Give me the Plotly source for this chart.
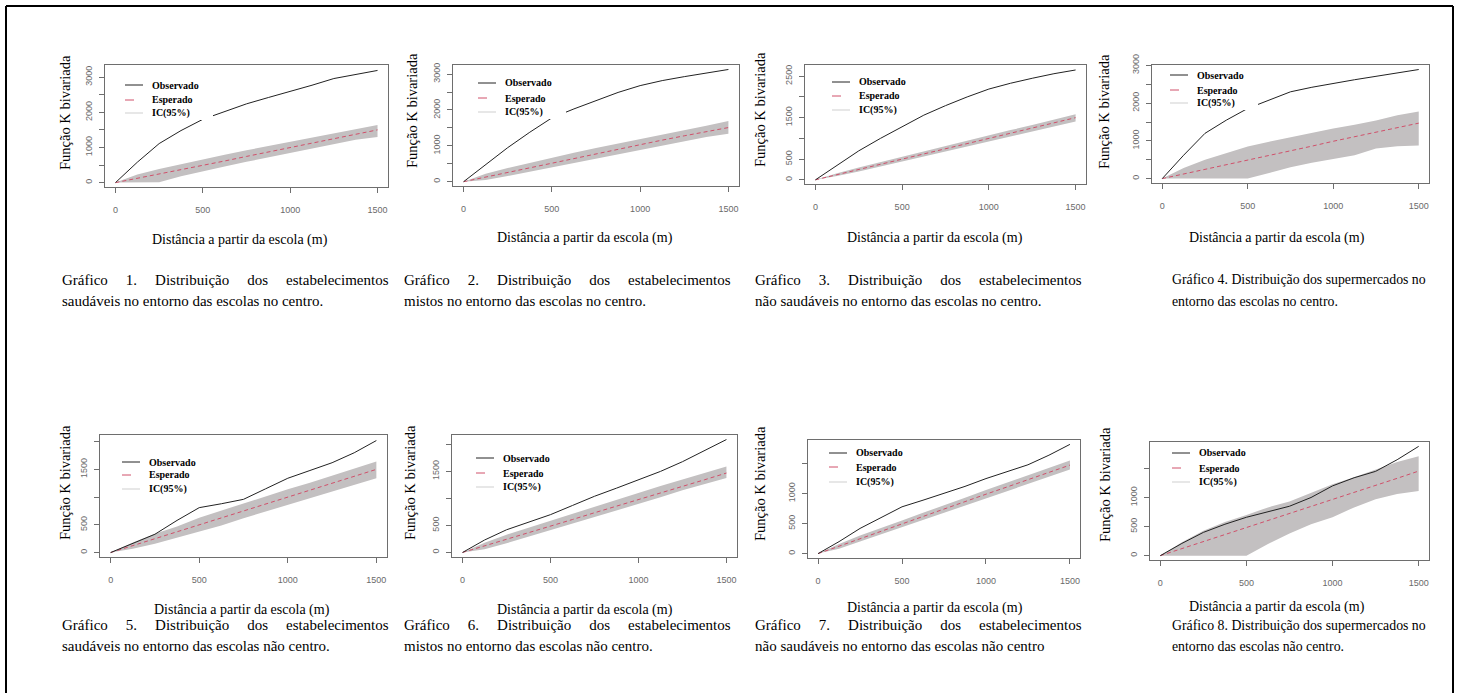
import plotly.graph_objects as go

W, H = 1462, 693

# ---------------- data ----------------
dist = [0, 125, 250, 375, 500, 625, 750, 875, 1000, 1125, 1250, 1375, 1500]

obs_p1 = [0, 580, 1110, 1480, 1800, 2010, 2240, 2420, 2590, 2770, 2960, 3080, 3190]
esp_p1 = [0, 120, 245, 370, 490, 615, 745, 870, 995, 1120, 1245, 1370, 1500]
lo_p1 = [0, 0, 10, 180, 330, 460, 590, 720, 850, 980, 1100, 1220, 1300]
hi_p1 = [0, 230, 390, 530, 660, 790, 920, 1040, 1160, 1290, 1420, 1540, 1640]

obs_p2 = [0, 480, 950, 1380, 1780, 2030, 2270, 2490, 2680, 2820, 2930, 3030, 3130]
esp_p2 = [0, 130, 265, 400, 530, 660, 790, 920, 1040, 1160, 1280, 1400, 1510]
lo_p2 = [0, 50, 160, 280, 410, 530, 650, 770, 900, 1010, 1130, 1250, 1340]
hi_p2 = [0, 220, 380, 530, 680, 810, 940, 1060, 1190, 1310, 1440, 1560, 1690]

obs_p3 = [0, 340, 700, 1000, 1290, 1560, 1790, 2000, 2190, 2330, 2450, 2560, 2650]
esp_p3 = [0, 125, 250, 375, 500, 625, 750, 875, 1000, 1125, 1250, 1375, 1500]
lo_p3 = [0, 90, 200, 320, 440, 560, 690, 810, 930, 1050, 1170, 1290, 1410]
hi_p3 = [0, 160, 300, 430, 560, 690, 810, 940, 1070, 1200, 1320, 1450, 1580]

obs_p4 = [0, 620, 1200, 1550, 1860, 2080, 2300, 2420, 2530, 2620, 2710, 2800, 2890]
esp_p4 = [0, 120, 250, 370, 490, 610, 740, 860, 990, 1110, 1230, 1350, 1470]
lo_p4 = [0, 0, 0, 0, 0, 150, 300, 420, 520, 620, 800, 860, 880]
hi_p4 = [0, 280, 500, 680, 850, 980, 1100, 1220, 1330, 1430, 1540, 1680, 1780]

obs_p5 = [0, 160, 330, 580, 810, 880, 960, 1150, 1340, 1480, 1620, 1800, 2020]
esp_p5 = [0, 125, 250, 375, 500, 625, 750, 875, 1000, 1125, 1250, 1375, 1500]
lo_p5 = [0, 70, 160, 270, 370, 490, 620, 740, 860, 980, 1110, 1230, 1340]
hi_p5 = [0, 180, 340, 470, 630, 760, 890, 1010, 1140, 1260, 1390, 1510, 1640]

obs_p6 = [0, 230, 420, 560, 700, 870, 1040, 1190, 1340, 1500, 1680, 1880, 2090]
esp_p6 = [0, 120, 245, 365, 490, 610, 735, 855, 980, 1100, 1225, 1345, 1470]
lo_p6 = [0, 60, 170, 290, 410, 530, 650, 780, 890, 1020, 1150, 1270, 1380]
hi_p6 = [0, 180, 330, 460, 590, 720, 850, 970, 1100, 1230, 1350, 1470, 1590]

obs_p7 = [0, 200, 420, 600, 780, 890, 1000, 1120, 1250, 1360, 1480, 1640, 1820]
esp_p7 = [0, 125, 250, 370, 495, 620, 740, 865, 990, 1110, 1235, 1355, 1475]
lo_p7 = [0, 80, 200, 320, 440, 560, 680, 800, 920, 1040, 1160, 1280, 1400]
hi_p7 = [0, 160, 300, 420, 550, 680, 800, 930, 1060, 1180, 1310, 1430, 1550]

obs_p8 = [0, 210, 400, 540, 660, 760, 850, 1000, 1200, 1340, 1450, 1650, 1880]
esp_p8 = [0, 120, 240, 360, 485, 600, 720, 845, 970, 1090, 1210, 1330, 1455]
lo_p8 = [0, 0, 0, 0, 0, 200, 380, 540, 660, 830, 970, 1060, 1110]
hi_p8 = [0, 230, 430, 580, 700, 830, 930, 1080, 1230, 1350, 1480, 1610, 1710]

x_ticks = [0, 500, 1000, 1500]
x_ticktext = ["0", "500", "1000", "1500"]

yticks_p1 = [0, 500, 1000, 1500, 2000, 2500, 3000]
ytext_p1 = ["0", "", "1000", "", "2000", "", "3000"]
yticks_p3 = [0, 500, 1000, 1500, 2000, 2500]
ytext_p3 = ["0", "500", "", "1500", "", "2500"]
yticks_p5 = [0, 500, 1000, 1500, 2000]
ytext_p5 = ["0", "500", "", "1500", ""]
yticks_p7 = [0, 500, 1000, 1500]
ytext_p7 = ["0", "500", "1000", ""]

legend_names = ["Observado", "Esperado", "IC(95%)"]
x_title = "Distância a partir da escola (m)"
y_title = "Função K bivariada"

captions = [
    ("Gráfico 1. Distribuição dos estabelecimentos", "saudáveis no entorno das escolas no centro.", True),
    ("Gráfico 2. Distribuição dos estabelecimentos", "mistos no entorno das escolas no centro.", True),
    ("Gráfico 3. Distribuição dos estabelecimentos", "não saudáveis no entorno das escolas no centro.", True),
    ("Gráfico 4. Distribuição dos supermercados no", "entorno das escolas no centro.", False),
    ("Gráfico 5. Distribuição dos estabelecimentos", "saudáveis no entorno das escolas não centro.", True),
    ("Gráfico 6. Distribuição dos estabelecimentos", "mistos no entorno das escolas não centro.", True),
    ("Gráfico 7. Distribuição dos estabelecimentos", "não saudáveis no entorno das escolas não centro", True),
    ("Gráfico 8. Distribuição dos supermercados no", "entorno das escolas não centro.", False),
]

# ---------------- layout geometry (pixels) ----------------
panels = [
    dict(obs=obs_p1, esp=esp_p1, lo=lo_p1, hi=hi_p1, box=(105, 388, 65, 187), yr=(-125, 3345),
         yt=(yticks_p1, ytext_p1), ytx=(65, 113), xtx=(240, 240), leg=(150, (85, 100, 113)), cap=(60, 280)),
    dict(obs=obs_p2, esp=esp_p2, lo=lo_p2, hi=hi_p2, box=(453, 739, 65, 186), yr=(-120, 3255),
         yt=(yticks_p1, ytext_p1), ytx=(412, 111), xtx=(585, 238), leg=(503, (83, 98, 112)), cap=(402, 280)),
    dict(obs=obs_p3, esp=esp_p3, lo=lo_p3, hi=hi_p3, box=(805, 1086, 65, 184), yr=(-100, 2770),
         yt=(yticks_p3, ytext_p3), ytx=(760, 110), xtx=(935, 238), leg=(857, (82, 96, 110)), cap=(753, 280)),
    dict(obs=obs_p4, esp=esp_p4, lo=lo_p4, hi=hi_p4, box=(1152, 1429, 65, 183), yr=(-116, 3010),
         yt=(yticks_p1, ytext_p1), ytx=(1104, 112), xtx=(1277, 238), leg=(1195, (75, 90, 103)), cap=(1170, 280)),
    dict(obs=obs_p5, esp=esp_p5, lo=lo_p5, hi=hi_p5, box=(100, 387, 435, 557), yr=(-80, 2120),
         yt=(yticks_p5, ytext_p5), ytx=(65, 483), xtx=(242, 610), leg=(147, (462, 475, 489)), cap=(60, 625)),
    dict(obs=obs_p6, esp=esp_p6, lo=lo_p6, hi=hi_p6, box=(452, 737, 435, 557), yr=(-84, 2174),
         yt=(yticks_p5, ytext_p5), ytx=(410, 483), xtx=(585, 610), leg=(501, (458, 473, 487)), cap=(402, 625)),
    dict(obs=obs_p7, esp=esp_p7, lo=lo_p7, hi=hi_p7, box=(808, 1080, 440, 558), yr=(-73, 1893),
         yt=(yticks_p7, ytext_p7), ytx=(760, 484), xtx=(935, 608), leg=(854, (453, 467, 482)), cap=(753, 625)),
    dict(obs=obs_p8, esp=esp_p8, lo=lo_p8, hi=hi_p8, box=(1150, 1429, 442, 560), yr=(-75, 1955),
         yt=(yticks_p7, ytext_p7), ytx=(1105, 485), xtx=(1277, 607), leg=(1197, (453, 468, 482)), cap=(1170, 625)),
]

SERIF = "Liberation Serif, Times New Roman, serif"
TICKFONT = dict(family="Liberation Sans Narrow, Liberation Sans, Arial, sans-serif", size=9, color="#6a6a6a")
BOXC = "#6e6e6e"
RED = "#d0506a"
BAND = "#c3c0c1"
ICLEG = "#cfcfcf"
OBSC = "#222222"


def px(x):
    return x / W


def py(y):
    return 1 - y / H


def justify(s):
    nb = "\u00a0"
    return (" " + nb * 3 + "\u2009").join(s.split(" "))


fig = go.Figure()
layout = dict(
    width=W, height=H, margin=dict(l=0, r=0, t=0, b=0, autoexpand=False),
    paper_bgcolor="white", plot_bgcolor="white",
    showlegend=False, annotations=[], shapes=[],
    font=dict(family=SERIF, color="black"),
)

for i, p in enumerate(panels):
    n = i + 1
    xa = "x" if n == 1 else f"x{n}"
    ya = "y" if n == 1 else f"y{n}"
    x0, x1, y0, y1 = p["box"]

    # band (IC 95%)
    fig.add_trace(go.Scatter(x=dist, y=p["lo"], mode="lines", line=dict(width=0, color=BAND),
                             hoverinfo="skip", xaxis=xa, yaxis=ya))
    fig.add_trace(go.Scatter(x=dist, y=p["hi"], mode="lines", line=dict(width=0, color=BAND),
                             fill="tonexty", fillcolor=BAND, name=legend_names[2],
                             xaxis=xa, yaxis=ya))
    # expected
    fig.add_trace(go.Scatter(x=dist, y=p["esp"], mode="lines", name=legend_names[1],
                             line=dict(color=RED, width=1, dash="4px,3px"), xaxis=xa, yaxis=ya))
    # observed
    fig.add_trace(go.Scatter(x=dist, y=p["obs"], mode="lines", name=legend_names[0],
                             line=dict(color=OBSC, width=1), xaxis=xa, yaxis=ya))

    axkey = "xaxis" if n == 1 else f"xaxis{n}"
    aykey = "yaxis" if n == 1 else f"yaxis{n}"
    layout[axkey] = dict(
        domain=[px(x0), px(x1)], anchor=ya, range=[-60, 1560],
        tickmode="array", tickvals=x_ticks, ticktext=x_ticktext,
        ticks="outside", ticklen=5, tickcolor=BOXC, tickwidth=1,
        showline=True, linecolor=BOXC, linewidth=1, mirror=True,
        showgrid=False, zeroline=False, tickfont=TICKFONT, ticklabelstandoff=9,
    )
    layout[aykey] = dict(
        domain=[py(y1), py(y0)], anchor=xa, range=list(p["yr"]),
        tickmode="array", tickvals=p["yt"][0], ticktext=p["yt"][1],
        ticks="outside", ticklen=5, tickcolor=BOXC, tickwidth=1,
        showline=True, linecolor=BOXC, linewidth=1, mirror=True,
        showgrid=False, zeroline=False, tickfont=TICKFONT, tickangle=-90, ticklabelstandoff=3,
    )

    # legend drawn like R's legend(): white box, short line samples, labels
    ts, ents = p["leg"]
    layout["shapes"].append(dict(type="rect", xref="paper", yref="paper", layer="above",
                                 x0=px(ts - 32), x1=px(ts + 63), y0=py(ents[0] - 8), y1=py(ents[2] + 7),
                                 fillcolor="white", line=dict(width=0)))
    sample_styles = [dict(color=OBSC, width=1), dict(color=RED, width=1, dash="dash"),
                     dict(color=ICLEG, width=1)]
    for k in range(3):
        layout["shapes"].append(dict(type="line", xref="paper", yref="paper", layer="above",
                                     x0=px(ts - 25), x1=px(ts - 7), y0=py(ents[k]), y1=py(ents[k]),
                                     line=sample_styles[k]))
        layout["annotations"].append(dict(
            text="<b>" + legend_names[k] + "</b>", x=px(ts), y=py(ents[k]), xref="paper", yref="paper",
            showarrow=False, xanchor="left", yanchor="middle",
            font=dict(family=SERIF, size=10, color="black")))

    # axis titles
    layout["annotations"].append(dict(
        text=y_title, x=px(p["ytx"][0]), y=py(p["ytx"][1]), xref="paper", yref="paper",
        textangle=-90, showarrow=False, xanchor="center", yanchor="middle",
        font=dict(family=SERIF, size=14.5, color="black")))
    layout["annotations"].append(dict(
        text=x_title, x=px(p["xtx"][0]), y=py(p["xtx"][1]), xref="paper", yref="paper",
        showarrow=False, xanchor="center", yanchor="middle",
        font=dict(family=SERIF, size=14, color="black")))

    # captions
    l1, l2, just = captions[i]
    cx, cy = p["cap"]
    fs = 15 if just else 13.8
    layout["annotations"].append(dict(
        text=justify(l1) if just else l1, x=px(cx), y=py(cy), xref="paper", yref="paper",
        showarrow=False, xanchor="left", yanchor="middle",
        font=dict(family=SERIF, size=fs, color="black")))
    layout["annotations"].append(dict(
        text=l2, x=px(cx), y=py(cy + 21), xref="paper", yref="paper",
        showarrow=False, xanchor="left", yanchor="middle",
        font=dict(family=SERIF, size=fs, color="black")))

# outer frame (top, left, right)
for (a, b, c, d) in [(6, 6, 1453, 6), (6, 6, 6, 700), (1453, 6, 1453, 700)]:
    layout["shapes"].append(dict(type="line", xref="paper", yref="paper",
                                 x0=px(a), y0=py(b), x1=px(c), y1=py(d),
                                 line=dict(color="black", width=2)))

fig.update_layout(**layout)
fig.write_html("out.html")
